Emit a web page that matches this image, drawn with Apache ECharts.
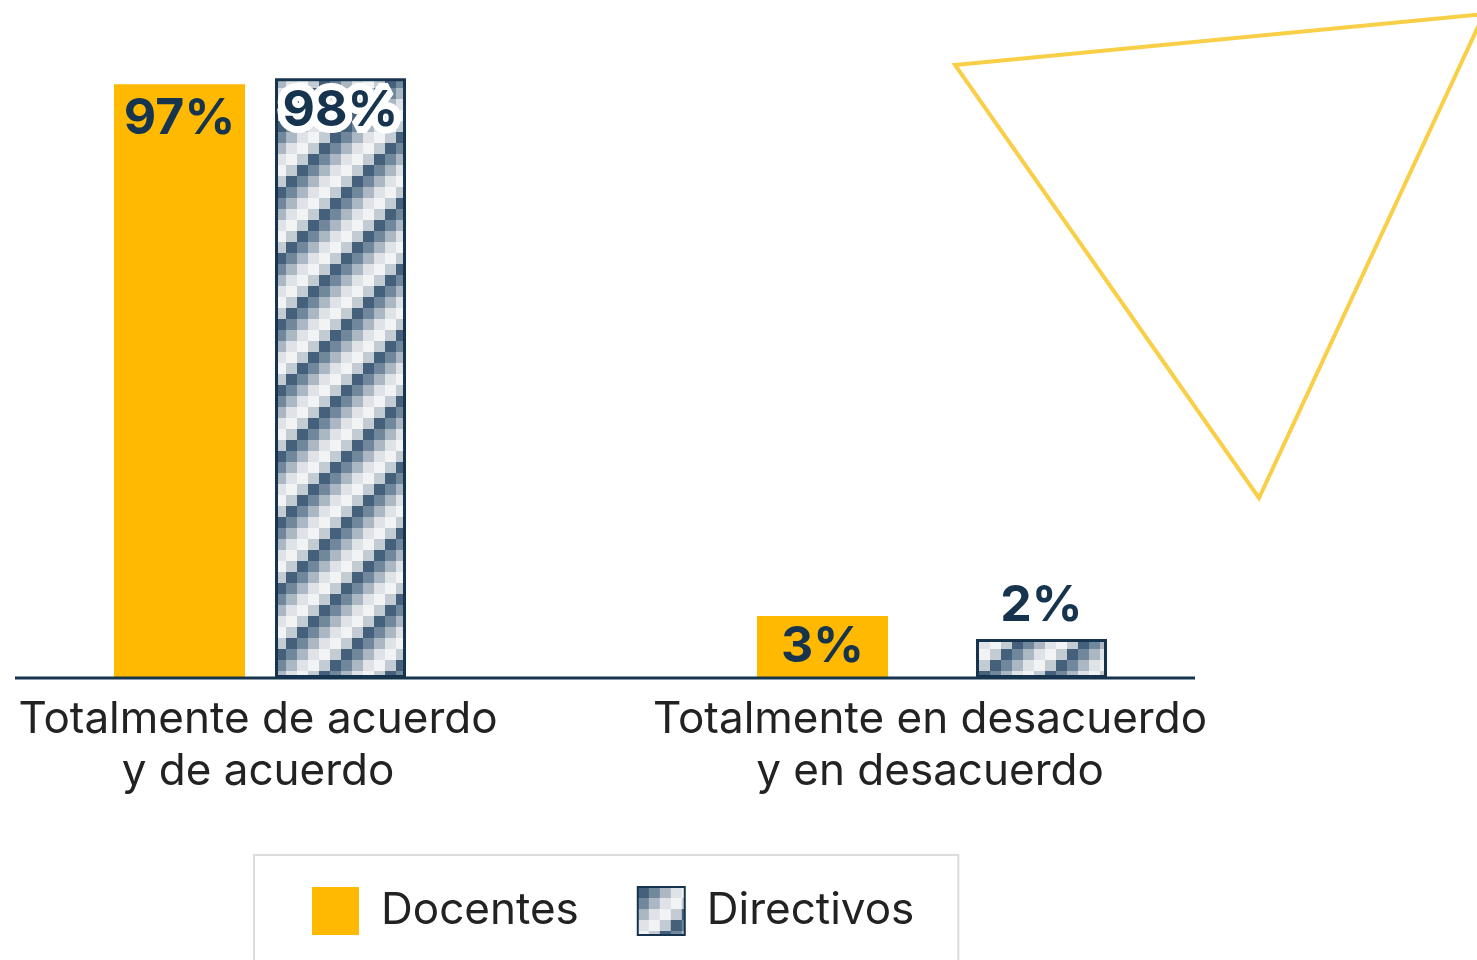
<!DOCTYPE html>
<html>
<head>
<meta charset="utf-8">
<script src="https://cdn.jsdelivr.net/npm/echarts@6/dist/echarts.min.js"></script>
<style>
  html, body { margin: 0; padding: 0; background: #fff; }
  #chart { width: 1477px; height: 960px; }
</style>
</head>
<body>
<div id="chart"></div>
<script>
// datos
var categorias = ["Totalmente de acuerdo\ny de acuerdo", "Totalmente en desacuerdo\ny en desacuerdo"];
var docentes = [97, 3];
var directivos = [98, 2];
var serieNombres = ["Docentes", "Directivos"];

var navy = "#17344f";
var amarillo = "#ffb900";
var fuente = "Inter, 'Noto Sans', sans-serif";

// patrón pixelado en diagonal
function crearPatron() {
  var cell = 11, n = 6;
  var cv = document.createElement("canvas");
  cv.width = cell * n;
  cv.height = cell * n;
  var ctx = cv.getContext("2d");
  var tonos = ["#45607a", "#71879c", "#abb7c2", "#dfe3e8", "#f1f3f4", "#c3cbd3"];
  for (var r = 0; r < n; r++) {
    for (var c = 0; c < n; c++) {
      ctx.fillStyle = tonos[(r + c) % n];
      ctx.fillRect(c * cell, r * cell, cell, cell);
    }
  }
  return { image: cv, repeat: "repeat" };
}

var chart = echarts.init(document.getElementById("chart"));

var labelBase = {
  show: true,
  formatter: "{c}%",
  color: navy,
  fontFamily: fuente,
  fontWeight: "bold",
  fontSize: 50
};

// cada serie en su propia rejilla para separar las barras como en el original
var gridBase = { top: 66, bottom: 282, outerBoundsMode: "none" };
function ejeX(idx, conEtiquetas) {
  return {
    type: "category",
    gridIndex: idx,
    data: categorias,
    axisLine: { show: false },
    axisTick: { show: false },
    axisLabel: {
      show: conEtiquetas,
      interval: 0,
      color: "#222",
      fontFamily: fuente,
      fontSize: 44,
      lineHeight: 52,
      margin: 16
    }
  };
}
function ejeY(idx) {
  return { type: "value", gridIndex: idx, min: 0, max: 100, show: false };
}

var option = {
  backgroundColor: "#fff",
  animation: false,
  grid: [
    Object.assign({ left: -142, right: 333 }, gridBase),
    Object.assign({ left: -10, right: 85 }, gridBase),
    Object.assign({ left: -78, right: 211 }, gridBase)
  ],
  legend: {
    left: 254,
    top: 855,
    padding: [31, 44, 40, 58],
    borderColor: "#dcdcdc",
    borderWidth: 2,
    icon: "rect",
    itemWidth: 47,
    itemHeight: 48,
    itemGap: 58,
    textStyle: {
      color: "#222",
      fontFamily: fuente,
      fontSize: 44,
      padding: [0, 0, 0, 17]
    },
    data: serieNombres
  },
  xAxis: [ejeX(0, false), ejeX(1, false), ejeX(2, true)],
  yAxis: [ejeY(0), ejeY(1), ejeY(2)],
  series: [
    {
      name: serieNombres[0],
      type: "bar",
      xAxisIndex: 0,
      yAxisIndex: 0,
      barWidth: 131,
      barMinHeight: 62,
      itemStyle: { color: amarillo },
      label: labelBase,
      data: docentes.map(function (v, i) {
        return {
          value: v,
          label: i === 0 ? { position: "insideTop", distance: 10 } : { position: "inside" }
        };
      })
    },
    {
      name: serieNombres[1],
      type: "bar",
      xAxisIndex: 1,
      yAxisIndex: 1,
      barWidth: 131,
      barMinHeight: 39,
      itemStyle: { color: crearPatron(), borderColor: navy, borderWidth: 3 },
      label: labelBase,
      data: directivos.map(function (v, i) {
        return {
          value: v,
          label: i === 0
            ? { position: "insideTop", distance: 8, textBorderColor: "#fff", textBorderWidth: 14 }
            : { position: "top", distance: 8 }
        };
      })
    }
  ],
  graphic: [
    {
      type: "line",
      z: 10,
      shape: { x1: 15, y1: 678, x2: 1195, y2: 678 },
      style: { stroke: navy, lineWidth: 3 }
    },
    {
      type: "polygon",
      z: 0,
      shape: { points: [[955, 65], [1484, 14], [1259, 498]] },
      style: { fill: "none", stroke: "#f8cf47", lineWidth: 4 }
    }
  ]
};

chart.setOption(option);
window.addEventListener("resize", function () {
  chart.resize();
});
</script>
</body>
</html>
